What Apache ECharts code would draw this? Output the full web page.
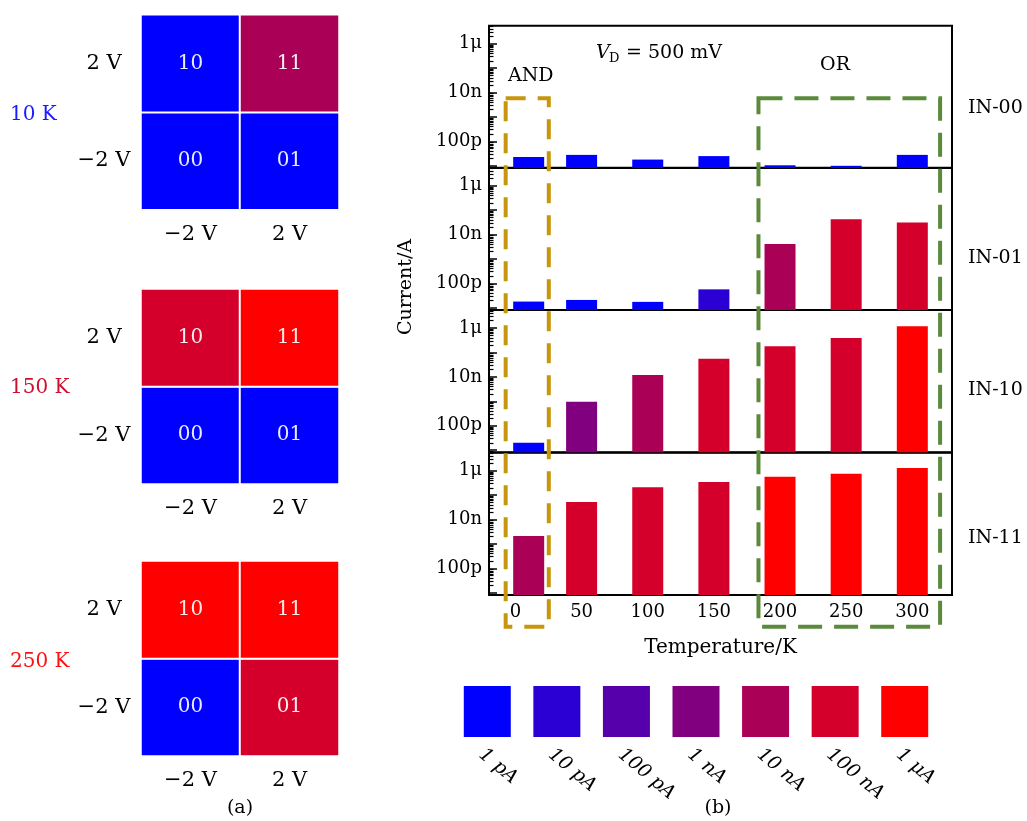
<!DOCTYPE html>
<html><head><meta charset="utf-8">
<script src="https://cdn.jsdelivr.net/npm/echarts@6/dist/echarts.min.js"></script>
<style>html,body{margin:0;padding:0;background:#fff}#c{width:1027px;height:821px}</style>
</head><body><div id="c"></div><script>
const FONT = 'DejaVu Serif';
// colour scale (legend)
const levelColors = ['#0000FF','#2B00D4','#5500AA','#800080','#AA0055','#D4002B','#FF0000'];
const levelLabels = ['1 pA','10 pA','100 pA','1 nA','10 nA','100 nA','1 μA'];
// (a) truth-table maps, rows: y0 = −2 V, y1 = 2 V ; cols: x0 = −2 V, x1 = 2 V
const gateVoltages = ['−2 V','2 V'];
const mapTemps = ['10 K','150 K','250 K'];
const mapTempColors = ['#1a1aff','#cc1030','#ff1010'];
const map10K  = [[0,0],[0,4]];
const map150K = [[0,0],[5,6]];
const map250K = [[0,5],[6,6]];
const cellText = [['00','01'],['10','11']];
// (b) currents (A) vs temperature
const temps = [10,50,100,150,200,250,300];
const xTicks = [0,50,100,150,200,250,300];
const inputs = ['IN-00','IN-01','IN-10','IN-11'];
const cur00 = [2.3e-11,2.8e-11,1.8e-11,2.5e-11,1.05e-11,1.0e-11,2.8e-11];
const cur01 = [1.8e-11,2.1e-11,1.75e-11,5.7e-11,4.1e-9,4.2e-8,3.1e-8];
const cur10 = [2.0e-11,9.6e-10,1.2e-8,5.5e-8,1.8e-7,3.9e-7,1.2e-6];
const cur11 = [2.1e-9,5.2e-8,2.1e-7,3.5e-7,5.7e-7,7.6e-7,1.3e-6];
const lvl00 = [0,0,0,0,0,0,0];
const lvl01 = [0,0,0,1,4,5,5];
const lvl10 = [0,3,4,5,5,5,6];
const lvl11 = [4,5,5,5,6,6,6];
const yLabelExps = [-10,-8,-6];
const yLabelTexts = ['100p','10n','1μ'];
const LOG_MIN = -11.09, LOG_MAX = -5.26;

const currents = [cur00,cur01,cur10,cur11];
const levels = [lvl00,lvl01,lvl10,lvl11];
const maps = [map10K,map150K,map250K];

const majorPos = [], minorPos = [];
for (let n = -12; n <= -5; n++) {
  if (n >= LOG_MIN && n <= LOG_MAX) majorPos.push(n - LOG_MIN);
  for (let k = 2; k <= 9; k++) { const l = n + Math.log10(k); if (l > LOG_MIN && l < LOG_MAX) minorPos.push(l - LOG_MIN); }
}
const labelPos = yLabelExps.map(e => e - LOG_MIN);

const chart = echarts.init(document.getElementById('c'), null, {renderer:'canvas'});
const option = {animation:false, textStyle:{fontFamily:FONT}, grid:[], xAxis:[], yAxis:[], series:[],
  visualMap:{type:'piecewise', show:false, seriesIndex:[0,1,2], dimension:2,
    pieces: levelColors.map((c,i)=>({value:i, color:c}))}};

const mapTops = [14.7, 289, 561];
maps.forEach((m,i)=>{
  option.grid.push({left:141, width:198, top:mapTops[i], height:195});
  option.xAxis.push({type:'category', gridIndex:i, data:gateVoltages, axisLine:{show:false}, axisTick:{show:false}, splitLine:{show:false},
    axisLabel:{fontFamily:FONT, fontSize:21, color:'#000', margin:14}});
  option.yAxis.push({type:'category', gridIndex:i, data:gateVoltages, axisLine:{show:false}, axisTick:{show:false}, splitLine:{show:false},
    axisLabel:{fontFamily:FONT, fontSize:21, color:'#000', margin:37, align:'center'}});
  const data = [];
  for (let y=0;y<2;y++) for (let x=0;x<2;x++) data.push([x,y,m[y][x]]);
  option.series.push({type:'heatmap', xAxisIndex:i, yAxisIndex:i, data,
    itemStyle:{borderColor:'#fff', borderWidth:2},
    label:{show:true, formatter:p=>cellText[p.value[1]][p.value[0]], color:'rgba(255,255,255,0.92)', fontSize:20, fontFamily:FONT},
    emphasis:{disabled:true}});
});

const barTops = [25.7,167.7,310,452.7];
currents.forEach((cur,i)=>{
  const g = 3+i;
  option.grid.push({left:489, width:463, top:barTops[i], height:142.3, show:true, borderColor:'#000', borderWidth:2, backgroundColor:'transparent'});
  option.xAxis.push({type:'value', gridIndex:g, min:-20, max:330, axisLine:{show:false, onZero:false}, splitLine:{show:false}, axisTick:{show:false},
    axisLabel: i===3 ? {customValues:xTicks, fontFamily:FONT, fontSize:18, color:'#000', margin:8} : {show:false},
    name: i===3 ? 'Temperature/K' : '', nameLocation:'middle', nameGap:43,
    nameTextStyle:{fontFamily:FONT, fontSize:20, color:'#000'}});
  option.yAxis.push({type:'value', gridIndex:g, position:'left', min:0, max:LOG_MAX-LOG_MIN, axisLine:{show:false, onZero:false}, splitLine:{show:false},
    axisTick:{show:true, inside:true, length:8, customValues:majorPos, lineStyle:{color:'#000', width:1.5}},
    axisLabel:{customValues:labelPos, fontFamily:FONT, fontSize:18, color:'#000', margin:7,
      formatter:v=>{const e=Math.round(v+LOG_MIN); const k=yLabelExps.indexOf(e); return k>=0?yLabelTexts[k]:'';}}});
  option.yAxis.push({type:'value', gridIndex:g, position:'left', offset:0, min:0, max:LOG_MAX-LOG_MIN, axisLine:{show:false, onZero:false}, splitLine:{show:false},
    axisTick:{show:true, inside:true, length:4.5, customValues:minorPos, lineStyle:{color:'#000', width:1.2}},
    axisLabel:{show:false}});
  option.series.push({type:'bar', xAxisIndex:g, yAxisIndex:3+2*i, barWidth:31,
    data: temps.map((t,j)=>({value:[t, Math.log10(cur[j])-LOG_MIN], itemStyle:{color:levelColors[levels[i][j]]}}))});
});

// colour legend
option.grid.push({left:452.5, width:487, top:686, height:51});
option.xAxis.push({type:'category', gridIndex:7, data:levelLabels, axisLine:{show:false}, axisTick:{show:false},
  axisLabel:{rotate:-40, align:'left', verticalAlign:'top', fontStyle:'italic', fontFamily:FONT, fontSize:19, color:'#000', margin:8}});
option.yAxis.push({type:'value', gridIndex:7, min:0, max:1, show:false});
option.series.push({type:'bar', xAxisIndex:7, yAxisIndex:11, barWidth:47,
  data: levelColors.map(c=>({value:1, itemStyle:{color:c}}))});

chart.setOption(option);

// annotations
const px = v => chart.convertToPixel({xAxisIndex:6}, v);
const andL = px(-7.4), andR = px(25.2), orL = px(183.7), orR = px(321);
const boxTop = 98.3, boxBot = 626.7;
const txt = (x,y,text,extra) => ({type:'text', x, y, silent:true,
  style:Object.assign({text, fontFamily:FONT, fontSize:19, fill:'#000', align:'left', verticalAlign:'middle'}, extra||{})});
const graphic = [
  {type:'rect', shape:{x:andL, y:boxTop, width:andR-andL, height:boxBot-boxTop}, silent:true, z:100,
    style:{fill:null, stroke:'#C8960C', lineWidth:4, lineDash:[20,12]}},
  {type:'rect', shape:{x:orL, y:boxTop, width:orR-orL, height:boxBot-boxTop}, silent:true, z:100,
    style:{fill:null, stroke:'#5B8A3A', lineWidth:4, lineDash:[24,12]}},
  txt(596,53,'V',{fontStyle:'italic'}),
  txt(609,59,'D',{fontSize:13}),
  txt(626,53,'= 500 mV'),
  txt(508,76,'AND'),
  txt(835,65,'OR',{align:'center'}),
  {type:'text', x:406, y:287, rotation:Math.PI/2, silent:true,
    style:{text:'Current/A', fontFamily:FONT, fontSize:19, fill:'#000', align:'center', verticalAlign:'middle'}},
  txt(240,808,'(a)',{align:'center'}),
  txt(718,808,'(b)',{align:'center'})
];
const inY = [108,258,390,538];
inputs.forEach((s,i)=>graphic.push(txt(968,inY[i],s)));
const tempY = [115,388,662];
mapTemps.forEach((s,i)=>graphic.push(txt(10,tempY[i],s,{fill:mapTempColors[i], fontSize:20})));
chart.setOption({graphic});
</script></body></html>
